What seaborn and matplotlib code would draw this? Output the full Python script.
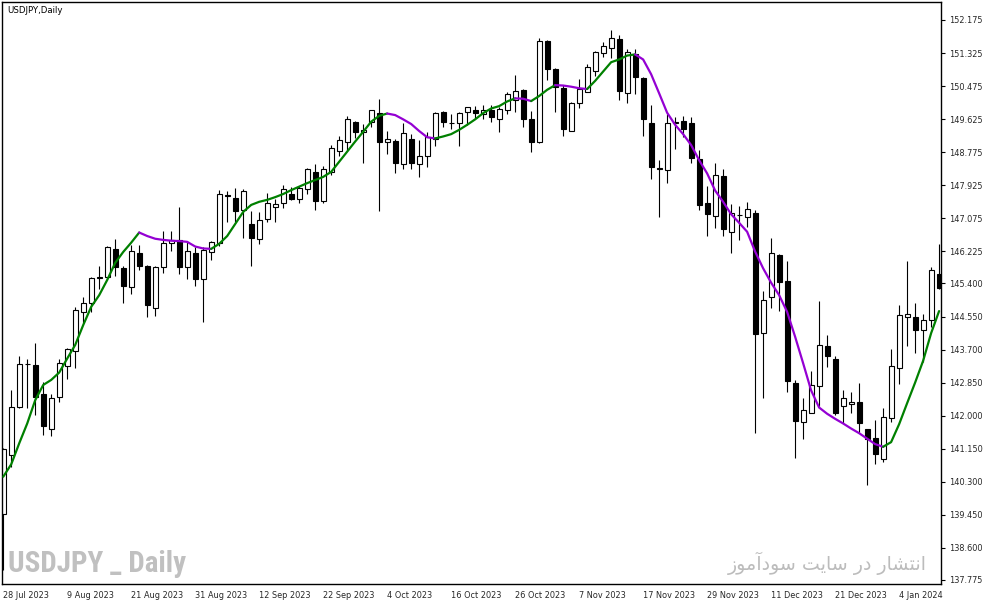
import numpy as np
import pandas as pd
import matplotlib
matplotlib.use("Agg")
import matplotlib.pyplot as plt
import seaborn as sns

# daily USDJPY candles
opens = [139.47, 140.99, 142.23, 143.32, 143.30, 142.55, 141.65, 142.47, 143.29, 143.67,
         144.67, 144.91, 145.55, 145.56, 146.29, 145.81, 145.32, 146.18, 145.86, 144.78,
         145.83, 146.43, 146.52, 145.83, 146.19, 145.51, 146.20, 146.43, 147.67, 147.59,
         147.29, 146.93, 146.54, 147.05, 147.36, 147.46, 147.69, 147.57, 147.82, 148.26,
         147.53, 148.27, 148.81, 149.03, 149.54, 149.29, 149.54, 149.78, 149.03, 149.06,
         148.46, 149.11, 148.46, 148.69, 149.11, 149.80, 149.52, 149.52, 149.82, 149.86,
         149.75, 149.86, 149.64, 149.86, 150.12, 150.38, 149.63, 149.05, 151.64, 150.92,
         150.42, 149.33, 150.03, 150.33, 150.87, 151.32, 151.46, 151.69, 150.31, 151.29,
         150.68, 149.53, 148.36, 148.33, 149.54, 149.58, 149.53, 148.60, 147.48, 147.14,
         148.16, 146.73, 147.16, 147.12, 147.20, 144.13, 145.04, 146.13, 145.46, 142.85,
         141.85, 142.08, 142.76, 143.79, 143.45, 142.26, 142.29, 142.34, 141.65, 141.42,
         140.88, 141.93, 143.22, 144.55, 144.53, 144.20, 144.46, 145.64]
highs = [141.18, 142.66, 143.53, 143.45, 143.88, 142.86, 142.55, 143.47, 143.75, 144.80,
         145.04, 145.57, 145.85, 146.36, 146.54, 145.86, 146.39, 146.39, 145.87, 145.86,
         146.75, 146.75, 147.36, 146.46, 146.35, 146.33, 146.50, 147.80, 147.79, 147.85,
         147.82, 147.27, 147.25, 147.73, 147.56, 147.93, 147.87, 147.91, 148.38, 148.46,
         148.43, 148.96, 149.19, 149.71, 149.58, 149.50, 149.86, 150.14, 149.32, 149.11,
         149.53, 149.24, 149.09, 149.30, 149.82, 149.84, 149.75, 149.80, 149.93, 149.97,
         149.99, 149.99, 149.93, 150.33, 150.76, 150.40, 149.84, 151.70, 151.66, 150.93,
         150.50, 150.07, 150.67, 151.04, 151.38, 151.60, 151.92, 151.79, 151.42, 151.42,
         150.72, 149.99, 148.57, 149.75, 149.69, 149.71, 149.69, 148.83, 147.91, 148.51,
         148.34, 147.44, 147.40, 147.50, 147.29, 145.21, 146.58, 146.17, 145.99, 142.92,
         142.45, 143.15, 144.95, 144.08, 143.54, 142.66, 142.60, 142.83, 141.66, 141.89,
         142.19, 143.71, 144.85, 145.98, 144.91, 144.61, 145.83, 146.41]
lows = [138.03, 140.69, 142.19, 142.20, 142.02, 141.50, 141.48, 142.36, 142.94, 143.23,
        144.39, 144.67, 145.27, 145.51, 145.60, 144.90, 145.12, 145.75, 144.53, 144.57,
        145.68, 146.24, 145.64, 145.52, 145.34, 144.42, 146.00, 146.37, 146.99, 146.99,
        146.56, 145.86, 146.41, 146.99, 146.99, 147.33, 147.55, 147.46, 147.69, 147.29,
        147.48, 148.19, 148.68, 148.81, 149.13, 148.51, 149.42, 147.27, 148.72, 148.23,
        148.34, 148.34, 148.15, 148.40, 148.94, 149.43, 149.37, 148.94, 149.48, 149.66,
        149.62, 149.54, 149.30, 149.76, 149.82, 149.43, 148.79, 149.00, 150.63, 149.82,
        149.18, 149.32, 149.92, 150.32, 150.74, 151.22, 151.19, 150.12, 150.03, 150.27,
        149.18, 148.08, 147.12, 147.99, 148.87, 149.16, 148.51, 147.29, 146.62, 146.82,
        146.62, 146.19, 146.52, 146.86, 141.56, 142.46, 144.76, 144.70, 142.62, 140.92,
        141.40, 142.07, 142.23, 143.24, 142.02, 141.80, 142.06, 141.55, 140.22, 140.77,
        140.80, 141.83, 142.81, 143.78, 143.62, 143.39, 144.29, 145.25]
closes = [141.14, 142.23, 143.32, 143.33, 142.49, 141.74, 142.45, 143.35, 143.71, 144.73,
          144.91, 145.55, 145.57, 146.33, 145.83, 145.34, 146.24, 145.86, 144.84, 145.83,
          146.43, 146.52, 145.83, 146.24, 145.51, 146.26, 146.46, 147.69, 147.66, 147.27,
          147.79, 146.58, 147.03, 147.46, 147.44, 147.82, 147.57, 147.85, 148.34, 147.53,
          148.34, 148.88, 149.09, 149.62, 149.29, 149.35, 149.85, 149.05, 149.11, 148.49,
          149.26, 148.49, 148.69, 149.17, 149.78, 149.56, 149.53, 149.78, 149.93, 149.78,
          149.86, 149.69, 149.88, 150.26, 150.36, 149.62, 149.05, 151.64, 150.91, 150.44,
          149.36, 150.03, 150.39, 150.96, 151.34, 151.51, 151.70, 150.36, 151.36, 150.72,
          149.62, 148.39, 148.35, 149.52, 149.53, 149.37, 148.63, 147.42, 147.19, 148.19,
          146.80, 147.20, 147.17, 147.31, 144.10, 144.97, 146.19, 145.45, 142.90, 141.87,
          142.15, 142.79, 143.83, 143.54, 142.08, 142.45, 142.34, 141.80, 141.39, 141.01,
          141.96, 143.28, 144.58, 144.61, 144.20, 144.46, 145.75, 145.28]
# trend line drawn over the candles
ma_line = [140.43, 140.75, 141.29, 141.80, 142.40, 142.79, 142.92, 143.11, 143.47, 143.82,
           144.33, 144.80, 145.10, 145.49, 145.93, 146.21, 146.45, 146.71, 146.62, 146.55,
           146.52, 146.50, 146.49, 146.47, 146.35, 146.30, 146.29, 146.42, 146.62, 146.93,
           147.24, 147.42, 147.50, 147.55, 147.62, 147.70, 147.80, 147.89, 147.98, 148.06,
           148.14, 148.27, 148.53, 148.79, 149.05, 149.30, 149.56, 149.71, 149.77, 149.73,
           149.62, 149.50, 149.32, 149.16, 149.13, 149.18, 149.24, 149.35, 149.48, 149.62,
           149.78, 149.90, 149.96, 150.08, 150.16, 150.15, 150.09, 150.22, 150.38, 150.50,
           150.49, 150.46, 150.42, 150.40, 150.61, 150.85, 151.09, 151.16, 151.26, 151.29,
           151.16, 150.78, 150.29, 149.79, 149.48, 149.24, 148.96, 148.57, 148.23, 147.79,
           147.50, 147.18, 146.96, 146.73, 146.22, 145.79, 145.42, 145.10, 144.67, 144.03,
           143.35, 142.65, 142.21, 142.05, 141.92, 141.80, 141.67, 141.55, 141.41, 141.27,
           141.20, 141.32, 141.78, 142.32, 142.85, 143.41, 144.12, 144.69]

date_labels = ["28 Jul 2023", "9 Aug 2023", "21 Aug 2023", "31 Aug 2023", "12 Sep 2023",
               "22 Sep 2023", "4 Oct 2023", "16 Oct 2023", "26 Oct 2023", "7 Nov 2023",
               "17 Nov 2023", "29 Nov 2023", "11 Dec 2023", "21 Dec 2023", "4 Jan 2024"]
price_ticks = [152.175, 151.325, 150.475, 149.625, 148.775, 147.925, 147.075, 146.225,
               145.400, 144.550, 143.700, 142.850, 142.000, 141.150, 140.300, 139.450,
               138.600, 137.775]

df = pd.DataFrame({"open": opens, "high": highs, "low": lows, "close": closes, "ma": ma_line})
df["bar"] = np.arange(len(df))

sns.set_style("white")
plt.rcParams["font.family"] = ["DejaVu Sans"]

fig = plt.figure(figsize=(9.87, 6.05), dpi=100)
ax = fig.add_axes([0.0023, 0.0342, 0.9516, 0.962])

# wicks then bodies
ax.vlines(df["bar"], df["low"], df["high"], color="black", lw=0.8, zorder=1)
up = df["close"] >= df["open"]
body_bottom = df[["open", "close"]].min(axis=1)
body_h = (df["close"] - df["open"]).abs()
ax.bar(df["bar"][up], body_h[up], bottom=body_bottom[up], width=0.6,
       color="white", edgecolor="black", linewidth=0.8, zorder=2)
ax.bar(df["bar"][~up], body_h[~up], bottom=body_bottom[~up], width=0.6,
       color="black", edgecolor="black", linewidth=0.8, zorder=2)

# trend line: green while rising, purple while falling
rising = np.r_[True, np.diff(df["ma"].values) >= 0]
seg = np.cumsum(np.r_[0, rising[1:] != rising[:-1]])
for s in np.unique(seg):
    idx = np.where(seg == s)[0]
    if idx[0] > 0:
        idx = np.r_[idx[0] - 1, idx]
    part = df.iloc[idx]
    col = "#008000" if rising[idx[-1]] else "#9400d3"
    sns.lineplot(data=part, x="bar", y="ma", color=col, lw=1.6, ax=ax, zorder=3)

ax.set_xlim(-0.12, 117.3)
ax.set_ylim(137.664, 152.63)

ax.yaxis.tick_right()
ax.set_yticks(price_ticks)
ax.set_yticklabels([f"{v:.3f}" for v in price_ticks], fontsize=5.9)
ax.set_xticks(np.arange(0, 8 * len(date_labels), 8))
ax.set_xticklabels(date_labels, fontsize=5.9, ha="left")
ax.tick_params(axis="both", direction="out", length=3, width=0.8, color="black", pad=2)
ax.tick_params(axis="y", pad=2.5)
ax.set_xlabel("")
ax.set_ylabel("")
for sp in ax.spines.values():
    sp.set_color("black")
    sp.set_linewidth(1.0)
    sp.set_visible(True)

ax.text(0.005, 0.993, "USDJPY,Daily", transform=ax.transAxes, fontsize=6.2,
        va="top", ha="left", color="black")
ax.text(0.006, 0.01, "USDJPY _ Daily", transform=ax.transAxes, fontsize=21,
        fontweight="bold", fontstretch="condensed", color="#c0c0c0",
        family=["Roboto Condensed", "Liberation Sans Narrow", "DejaVu Sans Condensed", "Lato"],
        va="bottom", ha="left")
# Persian caption, shaped forms in visual order
ax.text(0.984, 0.016, "\ufeaf\ufeee\ufee3\ufe81\ufea9\ufeee\ufeb3 \ufe96\ufbfe\ufe8e\ufeb3 \ufead\ufea9 \ufead\ufe8e\ufeb8\ufe98\ufee7\ufe8d",
        transform=ax.transAxes, fontsize=13.7, color="#bcbcbc",
        family=["DejaVu Sans"], va="bottom", ha="right")

fig.savefig("out.png", dpi=100, facecolor="white")
